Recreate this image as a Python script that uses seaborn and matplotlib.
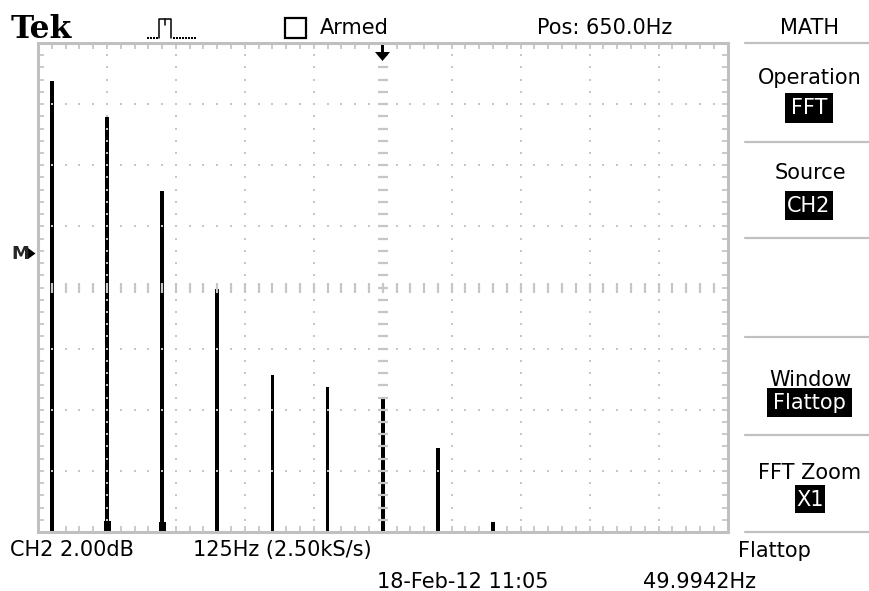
import numpy as np
import pandas as pd
import matplotlib
matplotlib.use("Agg")
import matplotlib.pyplot as plt
from matplotlib.patches import Rectangle, Polygon
import seaborn as sns

freq_hz = [50, 150, 250, 350, 450, 550, 650, 750, 850]
level_db = [14.76, 13.57, 11.16, 7.94, 5.14, 4.74, 4.34, 2.74, 0.34]
leak_freq_hz = [151, 251]
leak_db = [0.36, 0.33]

# screen scale: 125 Hz/div, 2 dB/div, centre 650 Hz
x_left, x_right = 25, 1275
y_bot, y_top = 0, 16
x_div, y_div = 125, 2

W, H = 869, 591
sns.set_style("white")
plt.rcParams['font.family'] = ['DejaVu Sans']

fig = plt.figure(figsize=(W / 100, H / 100), dpi=100)
ax = fig.add_axes([38 / W, 1 - 532 / H, (727.5 - 38) / W, (532 - 43) / H])

df = pd.DataFrame({"freq": freq_hz, "level": level_db})
sns.barplot(data=df, x="freq", y="level", native_scale=True, width=0.066,
            color="black", linewidth=0, errorbar=None, ax=ax, zorder=2,
            saturation=1)
ax.bar(leak_freq_hz, leak_db, width=12, color="black", linewidth=0, zorder=2)

ax.set_xlim(x_left, x_right)
ax.set_ylim(y_bot, y_top)
ax.set_xlabel("")
ax.set_ylabel("")

grey = "#c6c6c6"
maj_x = np.arange(x_left, x_right + 1, x_div)
min_x = np.arange(x_left, x_right + 1, x_div / 5)
maj_y = np.arange(y_bot, y_top + 0.01, y_div)
min_y = np.arange(y_bot, y_top + 0.01, y_div / 5)
ax.set_xticks(maj_x)
ax.set_xticks(min_x, minor=True)
ax.set_yticks(maj_y)
ax.set_yticks(min_y, minor=True)
ax.tick_params(which="both", direction="in", length=4, width=1.3, color=grey,
               top=True, right=True, bottom=True, left=True,
               labelbottom=False, labelleft=False)
for s in ax.spines.values():
    s.set_color("#c0c0c0")
    s.set_linewidth(2.2)

xc = (x_left + x_right) / 2
yc = (y_bot + y_top) / 2
# dotted graticule
gx, gy = [], []
for xv in maj_x[1:-1]:
    if abs(xv - xc) < 1e-6:
        continue
    for yv in min_y[1:-1]:
        gx.append(xv); gy.append(yv)
for yv in maj_y[1:-1]:
    if abs(yv - yc) < 1e-6:
        continue
    for xv in min_x[1:-1]:
        gx.append(xv); gy.append(yv)
ax.scatter(gx, gy, s=3.2, marker="s", color=grey, linewidths=0, zorder=3)
# centre cross ticks
ax.plot(min_x[1:-1], np.full(len(min_x) - 2, yc), ls="none", marker="|",
        ms=7, mew=1.6, color=grey, zorder=3)
ax.plot(np.full(len(min_y) - 2, xc), min_y[1:-1], ls="none", marker="_",
        ms=7.5, mew=1.6, color=grey, zorder=3)

# ---- overlay in pixel coordinates for the scope's screen furniture ----
ov = fig.add_axes([0, 0, 1, 1])
ov.set_xlim(0, W)
ov.set_ylim(H, 0)
ov.axis("off")
ov.patch.set_visible(False)

fs = 15
ov.text(11, 38.5, "Tek", fontsize=22.5, fontweight="bold", family="DejaVu Serif",
        va="baseline", ha="left", color="black")

texts = [
    ("Armed", 320, 34, "left"),
    ("Pos: 650.0Hz", 537, 34, "left"),
    ("MATH", 810, 34, "center"),
    ("Operation", 810, 84, "center"),
    ("Source", 810, 179, "center"),
    ("Window", 810, 386, "center"),
    ("FFT Zoom", 810, 479, "center"),
    ("Flattop", 738, 557, "left"),
    ("CH2 2.00dB", 10, 556, "left"),
    ("125Hz (2.50kS/s)", 193, 556, "left"),
    ("18-Feb-12 11:05", 377, 588, "left"),
    ("49.9942Hz", 643, 588, "left"),
]
for t, x, y, ha in texts:
    ov.text(x, y, t, fontsize=fs, ha=ha, va="baseline", color="black")

boxes = [
    ("FFT", 785, 93, 48, 30),
    ("CH2", 785, 191, 48, 29),
    ("Flattop", 767, 388, 85, 29),
    ("X1", 795, 485, 30, 28),
]
for t, x, y, w, h in boxes:
    ov.add_patch(Rectangle((x, y), w, h, color="black", lw=0))
    ov.text(x + w / 2, y + h / 2 + 0.5, t, fontsize=fs, ha="center", va="center",
            color="white")

# right-hand menu separators
for y in [43, 142, 238, 337, 435, 532]:
    ov.plot([745, W], [y, y], color="#c0c0c0", lw=1.6)

# checkbox
ov.add_patch(Rectangle((285, 18), 21, 20, fill=False, ec="black", lw=1.6))

# acquisition pulse icon
ov.scatter([148, 151, 154, 157], [38, 38, 38, 38], s=1.2, color="black",
           marker="s", linewidths=0)
ov.plot([159, 159, 171, 171], [38, 19, 19, 38], color="black", lw=1.1)
ov.plot([165, 165], [19, 25], color="black", lw=1.1)
ov.scatter(np.arange(174, 197, 3), np.full(8, 38), s=1.2, color="black",
           marker="s", linewidths=0)

# trigger position arrow
ov.add_patch(Rectangle((381, 45), 3.2, 8, color="black", lw=0))
ov.add_patch(Polygon([(375, 52), (390, 52), (382.5, 61)], closed=True,
                     color="black", lw=0))

# math reference marker
ov.text(11, 254, "M", fontsize=13, fontweight="bold", ha="left", va="center")
ov.add_patch(Polygon([(28, 248), (35.5, 253.5), (28, 259)], closed=True,
                     color="black", lw=0))

fig.savefig("out.png", dpi=100, facecolor="white")
